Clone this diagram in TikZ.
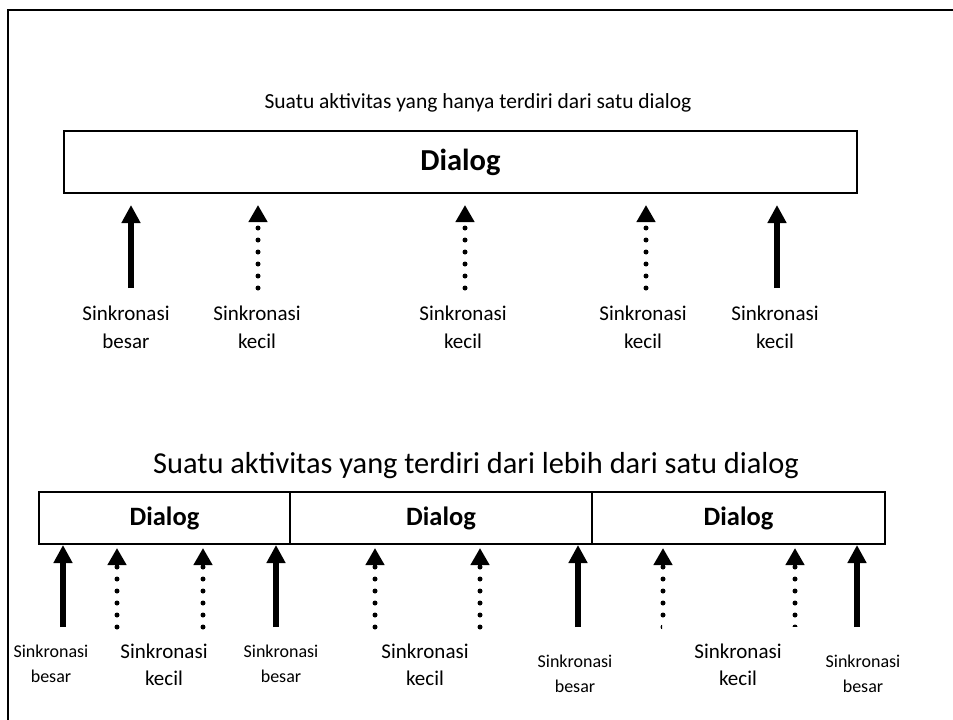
\documentclass[tikz,border=0pt]{standalone}
\usepackage{fontspec}
\setmainfont{Carlito}
\usetikzlibrary{arrows.meta}
\begin{document}
\begin{tikzpicture}[x=1pt,y=-1pt,
  frame/.style={line width=2pt},
  dbox/.style={draw, line width=1.5pt, inner sep=0pt, font=\fontsize{30.5}{32}\selectfont\bfseries},
  dboxs/.style={draw, line width=1.5pt, inner sep=0pt, font=\fontsize{26.5}{28}\selectfont\bfseries},
  solidarr/.style={line width=5.5pt, -{Triangle[width=18pt,length=18pt]}},
  dotarr/.style={line width=5pt, line cap=round, dash pattern=on 0pt off 12pt, -{Triangle[width=18pt,length=17pt]}},
  lbl/.style={align=center, inner sep=0pt, font=\fontsize{21}{28}\selectfont},
  lblk/.style={align=center, inner sep=0pt, font=\fontsize{21}{27}\selectfont},
  lbls/.style={align=center, inner sep=0pt, font=\fontsize{18}{25}\selectfont},
  ttl/.style={inner sep=0pt}
]
\useasboundingbox (0,0) rectangle (953,720);
% frame (only top and left visible)
\draw[frame] (8,720) -- (8,10) -- (953,10);

% ---------- top part ----------
\node[ttl, font=\fontsize{21.5}{24}\selectfont] (t1) at (478,103) {Suatu aktivitas yang hanya terdiri dari satu dialog};
\node[dbox, minimum width=793pt, minimum height=62pt] (d0) at (460.5,162) {Dialog};

\foreach \n/\x/\k in {a/131/s, b/258/d, c/465/d, d/646/d, e/777/s}{
  \coordinate (b\n) at (\x,288);
  \coordinate (h\n) at (\x,205);
}
\draw[solidarr] (ba) -- (ha);
\draw[dotarr] (bb) -- (hb);
\draw[dotarr] (bc) -- (hc);
\draw[dotarr] (bd) -- (hd);
\draw[solidarr] (be) -- (he);

\node[lbl] (la) at (126,327) {Sinkronasi\\besar};
\node[lbl] (lb) at (257,327) {Sinkronasi\\kecil};
\node[lbl] (lc) at (463,327) {Sinkronasi\\kecil};
\node[lbl] (ld) at (643,327) {Sinkronasi\\kecil};
\node[lbl] (le) at (775,327) {Sinkronasi\\kecil};

% ---------- bottom part ----------
\node[ttl, font=\fontsize{30.4}{34}\selectfont] (t2) at (476,466) {Suatu aktivitas yang terdiri dari lebih dari satu dialog};
\node[dboxs, minimum width=251pt, minimum height=52pt] (e1) at (164.5,518) {Dialog};
\node[dboxs, minimum width=302pt, minimum height=52pt] (e2) at (441,518) {Dialog};
\node[dboxs, minimum width=293pt, minimum height=52pt] (e3) at (738.5,518) {Dialog};

\foreach \n/\x/\y in {p/63/545, q/117/548, r/203/548, s/276/545, t/375/548, u/480/548, v/578/545, w/663/548, x/795/548, y/857/545}{
  \coordinate (h\n) at (\x,\y);
  \coordinate (b\n) at (\x,627);
}
\coordinate (bw2) at (663,615);
\coordinate (bx2) at (795,615);
\draw[solidarr] (bp) -- (hp);
\draw[dotarr] (bq) -- (hq);
\draw[dotarr] (br) -- (hr);
\draw[solidarr] (bs) -- (hs);
\draw[dotarr] (bt) -- (ht);
\draw[dotarr] (bu) -- (hu);
\draw[solidarr] (bv) -- (hv);
\draw[dotarr] (bw2) -- (hw);
\draw[dotarr] (bx2) -- (hx);
\draw[solidarr] (by) -- (hy);
% partly hidden last dots
\begin{scope}
  \clip (659,620) rectangle (662,634);
  \fill (bw) circle (2.5pt);
\end{scope}
\begin{scope}
  \clip (790,624) rectangle (800,626);
  \fill (bx) circle (2.5pt);
\end{scope}

\node[lbls] (m1) at (51,664) {Sinkronasi\\besar};
\node[lblk] (m2) at (164,665) {Sinkronasi\\kecil};
\node[lbls] (m3) at (281,664) {Sinkronasi\\besar};
\node[lblk] (m4) at (425,665) {Sinkronasi\\kecil};
\node[lbls] (m5) at (575,674) {Sinkronasi\\besar};
\node[lblk] (m6) at (738,665) {Sinkronasi\\kecil};
\node[lbls] (m7) at (863,674) {Sinkronasi\\besar};
\end{tikzpicture}
\end{document}
